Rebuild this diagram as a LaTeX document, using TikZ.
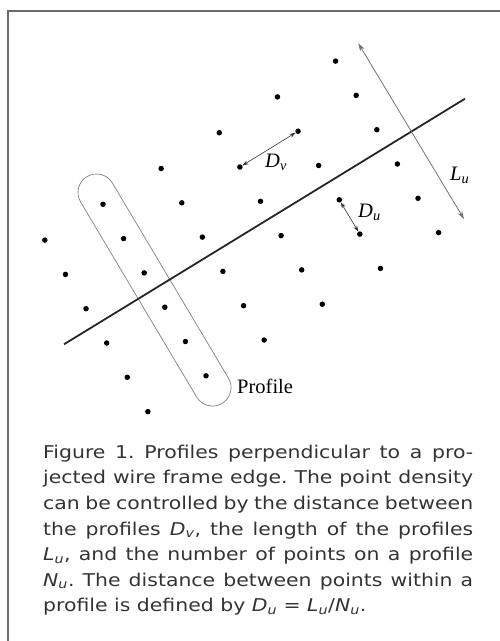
\documentclass[tikz,border=0pt]{standalone}
\usepackage{fontspec}
\setmainfont{DejaVu Sans}[FakeStretch=1.16]
\newfontfamily\labelfont{Liberation Serif}
\usepackage{tikz}
\usetikzlibrary{arrows.meta}
\definecolor{FrameGray}{HTML}{6A6A6A}
\definecolor{InkGray}{HTML}{333333}
\newcommand{\capsym}[2]{\textit{#1}\textsubscript{\textit{#2}}}
\newcommand{\labsym}[2]{\textit{#1}\textsubscript{\textit{#2}}}

\begin{document}
\begin{tikzpicture}[
    x=1pt, y=-1pt,
    dotnode/.style={circle,fill=black,inner sep=0pt,minimum size=5.5pt},
    edgeline/.style={line width=1.8pt,color=black!85},
    framelines/.style={line width=1.6pt,color=FrameGray},
    lengtharrow/.style={{Stealth[length=8pt,width=5pt]}-{Stealth[length=8pt,width=5pt]},line width=0.8pt,color=black!55},
    dimarrow/.style={{Stealth[length=6pt,width=4pt]}-{Stealth[length=6pt,width=4pt]},line width=0.6pt,color=black!80},
    profilebox/.style={draw=black!50,line width=0.7pt,rectangle,rounded corners=18.5pt,minimum width=264pt,minimum height=37pt,inner sep=0pt},
    figlabel/.style={font=\labelfont\fontsize{20.5}{24}\selectfont,inner sep=0pt},
    caption/.style={font=\fontsize{17.6}{25.6}\selectfont,color=InkGray,text width=430pt,align=justify,inner sep=0pt}
]
  \useasboundingbox (0,0) rectangle (500,641);

  \coordinate (fbot) at (8,641);
  \coordinate (fcorner) at (8,11);
  \coordinate (fright) at (500,11);
  \draw[framelines] (fbot) -- (fcorner) -- (fright);

  \foreach \c in {0,...,5}
    \foreach \i in {0,...,5}
      \node[dotnode] (p\c\i) at ({44.85+20.6*\i+58.15*\c},{240.1+34.3*\i-35.8*\c}) {};

  \node[profilebox, rotate=-59.25] (profile) at (154.5,290) {};
  \node[figlabel, anchor=base west] (proftext) at (237,393) {Profile};

  \coordinate (edgeA) at (64,344.3);
  \coordinate (edgeB) at (465,98.7);
  \draw[edgeline] (edgeA) -- (edgeB);

  \coordinate (lutop) at (358.3,43.3);
  \coordinate (lubot) at (464,219);
  \draw[lengtharrow] (lutop) -- (lubot);
  \node[figlabel, anchor=base west] (lulab) at (450,180.5) {\labsym{L}{u}};

  \draw[dimarrow] (p31) -- (p41);
  \node[figlabel, anchor=base west] (dvlab) at (265,167.5) {\labsym{D}{v}};

  \draw[dimarrow] (p43) -- (p44);
  \node[figlabel, anchor=base west] (dulab) at (358,217.5) {\labsym{D}{u}};

  \node[caption, anchor=base west] (cap) at (43,458.3) {\hyphenpenalty=10000\tolerance=10000\frenchspacing
    Figure 1.\ Profiles perpendicular to a pro-\linebreak
    jected wire frame edge. The point density\linebreak
    can be controlled by the distance between\linebreak
    the profiles \capsym{D}{v}, the length of the profiles\linebreak
    \capsym{L}{u}, and the number of points on a profile\linebreak
    \capsym{N}{u}. The distance between points within a\linebreak
    profile is defined by \capsym{D}{u} = \capsym{L}{u}/\capsym{N}{u}.};
\end{tikzpicture}
\end{document}
